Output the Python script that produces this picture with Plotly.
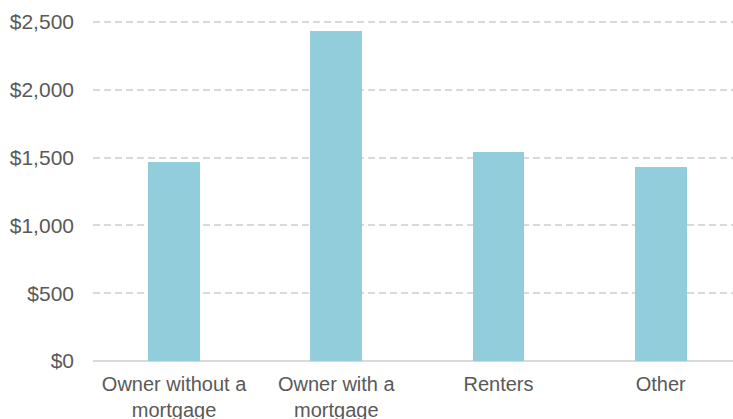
import plotly.graph_objects as go

categories = ["Owner without a<br>mortgage", "Owner with a<br>mortgage", "Renters", "Other"]
values = [1470, 2435, 1545, 1432]
tick_vals = [0, 500, 1000, 1500, 2000, 2500]
tick_text = ["$0", "$500", "$1,000", "$1,500", "$2,000", "$2,500"]

fig = go.Figure(go.Bar(
    x=list(range(len(categories))), y=values,
    marker=dict(color="#92CDDC", line=dict(width=0)),
    width=0.32,
))

fig.update_layout(
    width=733, height=419,
    margin=dict(l=93, r=0, t=20, b=58),
    paper_bgcolor="white", plot_bgcolor="white",
    font=dict(family="Liberation Sans, Arial, sans-serif", size=20, color="#595959"),
    showlegend=False,
    bargap=0,
)
fig.update_xaxes(
    tickmode="array", tickvals=list(range(len(categories))), ticktext=categories,
    range=[-0.5, 3.446], showgrid=False, showline=False, zeroline=False,
    ticks="", tickfont=dict(size=20, color="#595959"), automargin=False,
    ticklabelstandoff=9,
)
fig.update_yaxes(
    range=[0, 2515], tickmode="array", tickvals=tick_vals, ticktext=tick_text,
    showgrid=True, gridcolor="#d9d9d9", gridwidth=1.5, griddash="7px,4px",
    zeroline=True, zerolinecolor="#d9d9d9", zerolinewidth=1.5,
    showline=False, ticks="", ticklabelstandoff=18, automargin=False,
    tickfont=dict(size=21, color="#595959"),
)

fig.write_html(
    "out.html",
    config={"displayModeBar": False},
    post_script="document.body.style.margin='0';document.documentElement.style.overflow='hidden';document.body.style.overflow='hidden';",
)
